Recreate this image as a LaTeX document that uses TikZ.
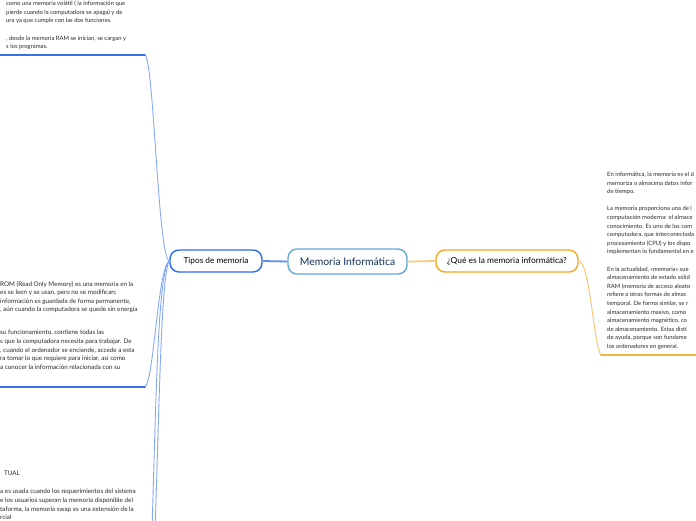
\documentclass[tikz,border=0pt]{standalone}
\usepackage{fontspec}
\setmainfont{Lato}
\definecolor{tipblue}{HTML}{2C6BF2}
\definecolor{cenblue}{HTML}{62A8DC}
\definecolor{cennavy}{HTML}{13315C}
\definecolor{queorange}{HTML}{F6A821}
\definecolor{branchblue}{HTML}{86A9F5}
\definecolor{ulblue}{HTML}{3A70EE}
\definecolor{branchorange}{HTML}{F8C46A}
\definecolor{ulorange}{HTML}{F5B440}
\definecolor{linkblue}{HTML}{5D8FF0}
\definecolor{linkorange}{HTML}{F9CD7A}
\definecolor{bodytext}{HTML}{2A2A2A}
\tikzset{
  topicbox/.style={draw, rounded corners=9pt, line width=1.4pt, fill=white, inner sep=0pt, align=center},
  bodytxt/.style={anchor=north west, inner sep=0pt, align=left, text=bodytext, font=\fontsize{5.9}{8.6}\selectfont},
  bodybig/.style={bodytxt, font=\fontsize{6.3}{8.6}\selectfont},
  branch/.style={draw=branchblue, line width=0.9pt},
  ulineb/.style={draw=ulblue, line width=1.8pt, line cap=round},
}
\begin{document}
\begin{tikzpicture}[x=1pt,y=-1pt]
\useasboundingbox (0,0) rectangle (696,520);
\clip (0,0) rectangle (696,520);
\fill[white] (0,0) rectangle (696,520);

% main nodes
\node[topicbox, draw=cenblue, text=cennavy, minimum width=119pt, minimum height=25pt, font=\fontsize{10.4}{12}\selectfont] (center) at (347.5,261.5) {Memoria Informática};
\node[topicbox, draw=tipblue, text=black, minimum width=92pt, minimum height=22pt, font=\fontsize{8.3}{9}\selectfont] (tipos) at (216,261) {Tipos de memoria};
\node[topicbox, draw=queorange, text=black, minimum width=142pt, minimum height=22pt, font=\fontsize{8.4}{9}\selectfont] (que) at (507,261) {¿Qué es la memoria informática?};

% center links
\draw[linkblue, line width=1.8pt] (center.west) -- (tipos.east);
\draw[linkorange, line width=1.8pt] (center.east) -- (que.west);

% free ends
\coordinate (t1) at (145,55);
\coordinate (t1e) at (0,55);
\coordinate (t2) at (145,387);
\coordinate (t2e) at (0,387);
\coordinate (t3) at (152,530);
\coordinate (t4) at (155,530);
\coordinate (r1) at (601,355);
\coordinate (r1e) at (696,355);

% left branches
\draw[branch] (tipos.west) .. controls (158,258) and (154,62) .. (t1);
\draw[ulineb] (t1) -- (t1e);
\draw[branch] (tipos.west) .. controls (158,266) and (154,380) .. (t2);
\draw[ulineb] (t2) -- (t2e);
\draw[branch] (tipos.west) .. controls (158,270) and (156,400) .. (t3);
\draw[branch] (tipos.west) .. controls (161,272) and (159,420) .. (t4);

% right branch
\draw[draw=branchorange, line width=0.9pt] (que.east) .. controls (590,262) and (594,348) .. (r1);
\draw[draw=ulorange, line width=1.8pt, line cap=round] (r1) -- (r1e);

% left texts
\node[bodytxt] (txtA) at (6,1) {como una memoria volátil ( la información que\\
pierde cuando la computadora se apaga) y de\\
ura ya que cumple con las dos funciones.\\[8.6pt]
, desde la memoria RAM se inician, se cargan y\\
s los programas.};

\node[bodybig] (txtB) at (0,281) {ROM (Read Only Memory) es una memoria en la\\
es se leen y se usan, pero no se modifican;\\
información es guardada de forma permanente,\\
, aún cuando la computadora se quede sin energía};

\node[bodybig] (txtC) at (0,330) {su funcionamiento, contiene todas las\\
s que la computadora necesita para trabajar. De\\
, cuando el ordenador se enciende, accede a esta\\
ra tomar lo que requiere para iniciar, así como\\
a conocer la información relacionada con su};

\node[bodybig] (txtD) at (4,471) {TUAL};

\node[bodybig] (txtE) at (0,489) {a es usada cuando los requerimientos del sistema\\
e los usuarios superan la memoria disponible del\\
taforma, la memoria swap es una extensión de la\\
rcial};

% right text
\node[bodytxt] (txtR) at (607,172) {En informática, la memoria es el d\\
memoriza o almacena datos infor\\
de tiempo.\\[8.6pt]
La memoria proporciona una de l\\
computación moderna: el almace\\
conocimiento. Es uno de los com\\
computadora, que interconectada\\
procesamiento (CPU) y los dispo\\
implementan lo fundamental en e\\[8.6pt]
En la actualidad, «memoria» sue\\
almacenamiento de estado sólid\\
RAM (memoria de acceso aleato\\
refiere a otras formas de almac\\
temporal. De forma similar, se r\\
almacenamiento masivo, como\\
almacenamiento magnético, co\\
de almacenamiento. Estas disti\\
de ayuda, porque son fundame\\
los ordenadores en general.};
\end{tikzpicture}
\end{document}
